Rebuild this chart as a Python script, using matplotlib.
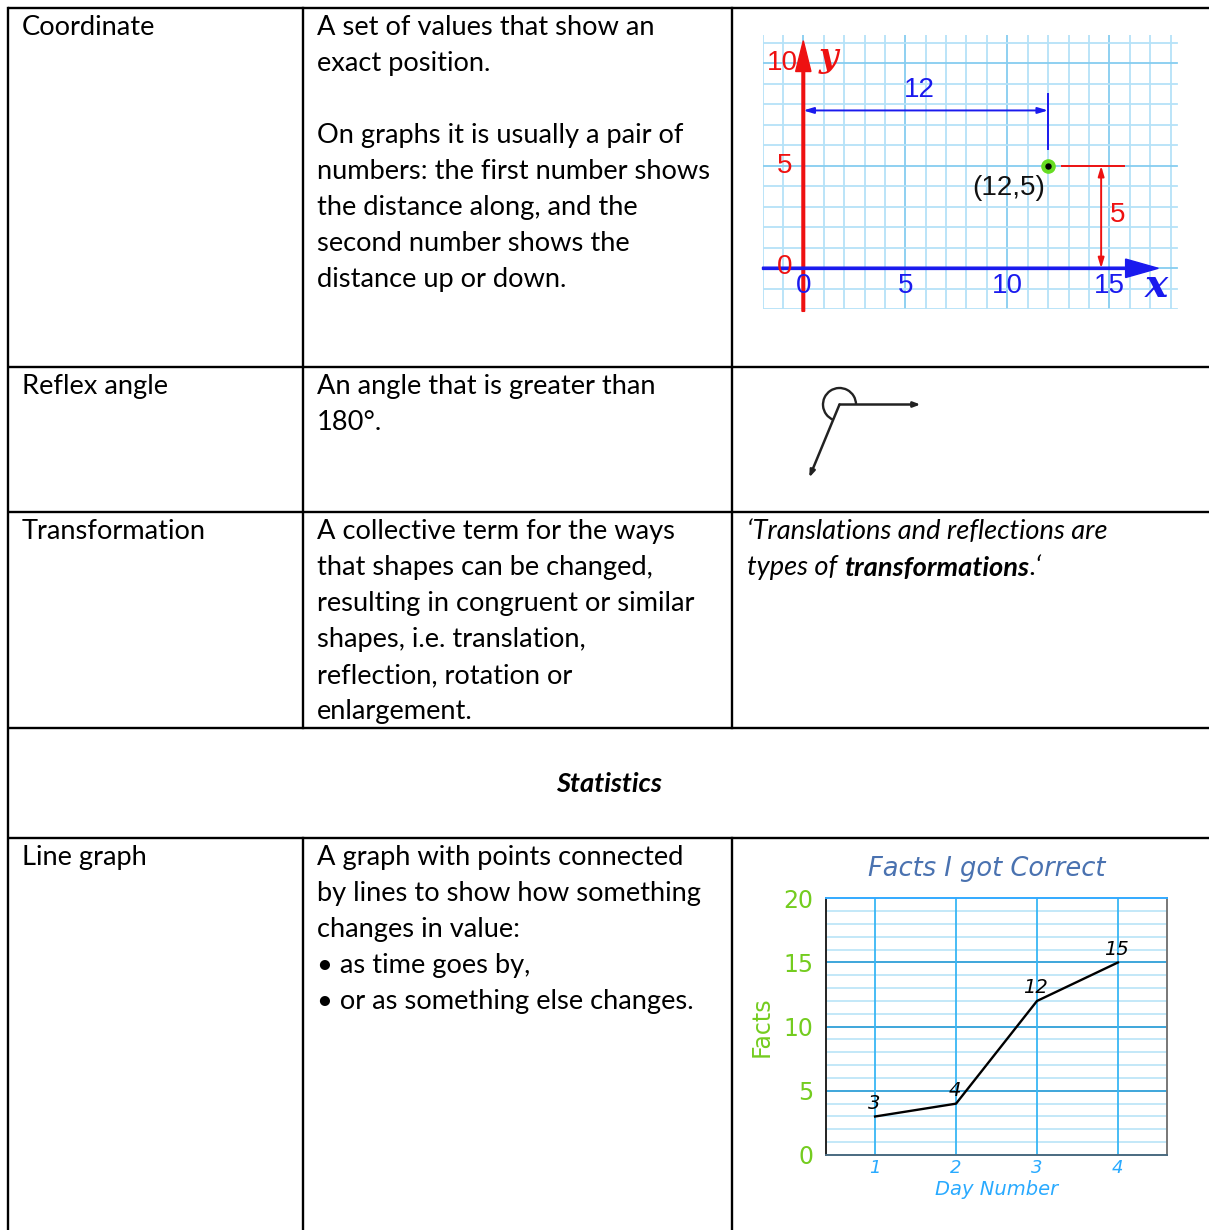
import numpy as np
import matplotlib
matplotlib.use("Agg")
import matplotlib.pyplot as plt
from matplotlib.patches import Arc

W, H = 1209, 1230
TEXT_FONT = "Lato"
FS = 19.6

# table layout (pixels)
row_lines = [8, 367, 512, 728, 838]
col_lines = [8, 303, 732]

terms = ["Coordinate", "Reflex angle", "Transformation", "Line graph"]
term_rows = [8, 367, 512, 838]
definitions = [
    ["A set of values that show an", "exact position.", "",
     "On graphs it is usually a pair of", "numbers: the first number shows",
     "the distance along, and the", "second number shows the",
     "distance up or down."],
    ["An angle that is greater than", "180°."],
    ["A collective term for the ways", "that shapes can be changed,",
     "resulting in congruent or similar", "shapes, i.e. translation,",
     "reflection, rotation or", "enlargement."],
    ["A graph with points connected", "by lines to show how something",
     "changes in value:", "• as time goes by,", "• or as something else changes."],
]
section_title = "Statistics"

# coordinate example
point = (12, 5)
coord_ticks = [0, 5, 10, 15]
y_ticks_coord = [0, 5, 10]

# reflex angle
ray_angles = [0, 247.5]   # degrees, counter-clockwise on screen
ray_lengths = [81, 79]

# line graph data
days = [1, 2, 3, 4]
facts = [3, 4, 12, 15]

fig = plt.figure(figsize=(W / 100, H / 100), dpi=100)
ax = fig.add_axes([0, 0, 1, 1])
ax.set_xlim(0, W)
ax.set_ylim(H, 0)
ax.axis("off")

def frac_rect(x0, y0, x1, y1):
    return [x0 / W, 1 - y1 / H, (x1 - x0) / W, (y1 - y0) / H]

# table borders
lw_tab = 1.7
for y in row_lines:
    ax.plot([8, W], [y, y], color="black", lw=lw_tab, solid_capstyle="butt")
ax.plot([8, 8], [8, H], color="black", lw=lw_tab)
for x in col_lines[1:]:
    ax.plot([x, x], [8, 728], color="black", lw=lw_tab)
    ax.plot([x, x], [838, H], color="black", lw=lw_tab)

# text in the table
base = 27
for term, top, lines in zip(terms, term_rows, definitions):
    ax.text(22, top + base, term, fontsize=FS, family=TEXT_FONT, va="baseline")
    for i, line in enumerate(lines):
        ax.text(317, top + base + 36 * i, line, fontsize=FS, family=TEXT_FONT,
                va="baseline")

ax.text(609, 792, section_title, fontsize=FS, family=TEXT_FONT, weight="bold",
        style="italic", ha="center", va="baseline")

q1 = ax.text(747, 512 + base, "\u2018Translations and reflections are", fontsize=FS,
             family=TEXT_FONT, style="italic", va="baseline")
q2 = ax.text(747, 512 + base + 36, "types of", fontsize=FS, family=TEXT_FONT,
             style="italic", va="baseline")
q3 = ax.annotate("transformations", xy=(1, 0), xycoords=q2, xytext=(5, 0),
                 textcoords="offset points", fontsize=FS, family=TEXT_FONT,
                 style="italic", weight="bold", va="bottom")
ax.annotate(".\u2018", xy=(1, 0), xycoords=q3, fontsize=FS, family=TEXT_FONT,
            style="italic", va="bottom")

# reflex angle
vx, vy = 839.5, 404.5
for ang, ln in zip(ray_angles, ray_lengths):
    ex = vx + ln * np.cos(np.radians(ang))
    ey = vy - ln * np.sin(np.radians(ang))
    ax.annotate("", xy=(ex, ey), xytext=(vx, vy),
                arrowprops=dict(arrowstyle="-|>,head_length=0.4,head_width=0.15",
                                color="#222222", lw=1.8, shrinkA=0, shrinkB=0))
ax.add_patch(Arc((vx, vy), 33, 33, theta1=360 - ray_angles[1], theta2=360,
                 color="#222222", lw=1.7))

# ---------- coordinate graph ----------
ux0, uy0, ux, uy = 803.3, 268.3, 20.4, 20.5
xl, xr, yb, yt = -2, 18.4, -2, 11.4
ac = fig.add_axes(frac_rect(ux0 + xl * ux, uy0 - yt * uy, ux0 + xr * ux, uy0 - yb * uy))
ac.set_xlim(xl, xr)
ac.set_ylim(yb, yt)
ac.axis("off")
for gx in range(-2, 19):
    c = "#86cdf0" if gx % 5 == 0 else "#b5e2f8"
    ac.plot([gx, gx], [yb, yt], color=c, lw=1.3, zorder=0)
for gy in range(-2, 12):
    c = "#86cdf0" if gy % 5 == 0 else "#b5e2f8"
    ac.plot([xl, 18.3], [gy, gy], color=c, lw=1.3, zorder=0)

red, blue = "#ee1111", "#1a1aee"
ac.arrow(0, -2.1, 0, 13.2, width=0.13, head_width=0.75, head_length=1.5,
         length_includes_head=True, color=red, clip_on=False, zorder=3)
ac.arrow(-2, 0, 19.4, 0, width=0.11, head_width=0.9, head_length=1.6,
         length_includes_head=True, color=blue, clip_on=False, zorder=3)

cfont = dict(family="Liberation Sans", fontsize=20)
for t in coord_ticks:
    ac.text(t, -0.85, str(t), color=blue, ha="center", va="center", **cfont)
for t in y_ticks_coord:
    ac.text(-1.05 if t == 10 else -0.9, t + (0.05 if t == 0 else 0), str(t),
            color=red, ha="center", va="center", zorder=4, **cfont)
ac.text(1.25, 10.3, "y", color=red, family="DejaVu Serif", style="italic",
        weight="bold", fontsize=24, ha="center", va="center")
ac.text(17.3, -0.85, "x", color=blue, family="DejaVu Serif", style="italic",
        weight="bold", fontsize=28, ha="center", va="center", clip_on=False)

# distance markers
ac.annotate("", xy=(point[0], 7.7), xytext=(0, 7.7),
            arrowprops=dict(arrowstyle="<|-|>,head_length=0.6,head_width=0.18",
                            color=blue, lw=1.4, shrinkA=0, shrinkB=0))
ac.plot([point[0], point[0]], [5.8, 8.5], color=blue, lw=1.4)
ac.text(point[0] / 2 - 0.3, 8.7, str(point[0]), color=blue, ha="center",
        va="center", **cfont)
ac.plot([12.7, 15.7], [point[1], point[1]], color=red, lw=1.4)
ac.annotate("", xy=(14.6, 0), xytext=(14.6, point[1]),
            arrowprops=dict(arrowstyle="<|-|>,head_length=0.6,head_width=0.18",
                            color=red, lw=1.4, shrinkA=0, shrinkB=0))
ac.text(15.4, 2.6, str(point[1]), color=red, ha="center", va="center", **cfont)
ac.plot(*point, "o", ms=9.5, color="#66dd22", zorder=5)
ac.plot(*point, "o", ms=3.6, color="black", zorder=6)
ac.text(10.05, 3.9, "(%d,%d)" % point, color="#111111", ha="center", va="center",
        **cfont)

# ---------- line graph ----------
al = fig.add_axes(frac_rect(825.7, 898.3, 1167.3, 1155))
al.plot(days, facts, color="black", lw=1.7, zorder=4)
al.set_xlim(0.39, 4.61)
al.set_ylim(0, 20)
al.set_xticks(days)
al.set_yticks(range(0, 21, 5))
for gy in range(1, 20):
    if gy % 5:
        al.axhline(gy, color="#b3e1f7", lw=1.1, zorder=1)
for gy in range(5, 20, 5):
    al.axhline(gy, color="#2f9fd8", lw=1.3, zorder=2)
for d in days:
    al.axvline(d, color="#38b6f5", lw=1.3, zorder=2)
al.tick_params(length=0)
al.tick_params(axis="y", colors="#74cc1f", labelsize=17, pad=9)
al.tick_params(axis="x", colors="#29aaff", labelsize=13, pad=3)
for lab in al.get_xticklabels():
    lab.set_style("italic")
al.set_xlabel("Day Number", color="#29aaff", fontsize=14, style="italic", labelpad=2)
al.set_ylabel("Facts", color="#74cc1f", fontsize=17, labelpad=7)
al.set_title("Facts I got Correct", color="#4a72b0", fontsize=18.5, style="italic",
             pad=16, x=0.472)
al.spines["left"].set_color("#222222")
al.spines["bottom"].set_color("#4a6a80")
al.spines["top"].set_color("#33aaff")
al.spines["right"].set_color("#777777")
for sp in al.spines.values():
    sp.set_linewidth(1.4)
for d, v in zip(days, facts):
    al.annotate(str(v), (d, v), xytext=(-1, 9.5), textcoords="offset points",
                ha="center", va="center", style="italic", fontsize=14, zorder=5)

fig.savefig("out.png", dpi=100)
